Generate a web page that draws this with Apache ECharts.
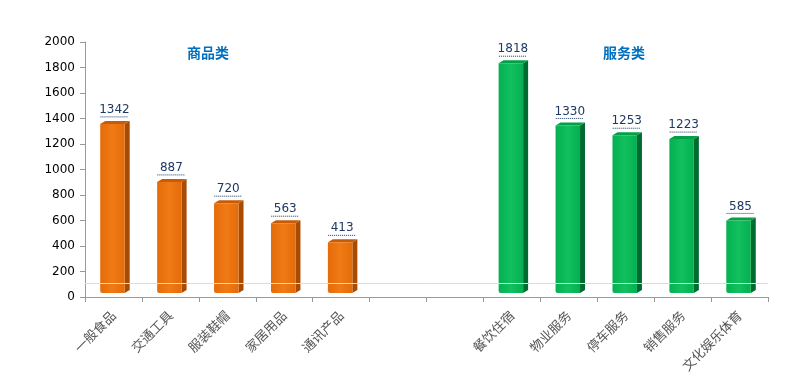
<!DOCTYPE html>
<html><head><meta charset="utf-8">
<script src="https://cdn.jsdelivr.net/npm/echarts@6/dist/echarts.min.js"></script>
<style>html,body{margin:0;padding:0;background:#fff}#c{width:793px;height:382px}</style>
</head><body><div id="c"></div>
<script>
const categories = ['一般食品','交通工具','服装鞋帽','家居用品','通讯产品','','','餐饮住宿','物业服务','停车服务','销售服务','文化娱乐体育'];
const goodsValues = [1342, 887, 720, 563, 413];
const serviceValues = [1818, 1330, 1253, 1223, 585];
const goodsIndex = [0, 1, 2, 3, 4];
const serviceIndex = [7, 8, 9, 10, 11];
const yTicks = [0, 200, 400, 600, 800, 1000, 1200, 1400, 1600, 1800, 2000];

function makeRender(front, frontLight, side, topC) {
  return function (params, api) {
    const idx = api.value(0), v = api.value(1);
    const t = api.coord([idx, v]);
    const b = api.coord([idx, 0]);
    const bw = api.size([1, 0])[0] * 0.43;
    const d = 5, r = 3;
    const x0 = t[0] - bw / 2 - 1, x1 = x0 + bw;
    const yT = t[1] - 2, yB = b[1] - 4;
    const children = [
      { type: 'polygon', shape: { points: [[x1, yT], [x1 + d, yT - r], [x1 + d, yB - r], [x1, yB]] }, style: { fill: side } },
      { type: 'polygon', shape: { points: [[x0, yT], [x0 + d, yT - r], [x1 + d, yT - r], [x1, yT]] }, style: { fill: topC } },
      { type: 'rect', shape: { x: x0, y: yT, width: bw, height: yB - yT, r: [0, 0, 0, 2] },
        style: { fill: new echarts.graphic.LinearGradient(0, 0, 1, 0, [
          { offset: 0, color: front }, { offset: 0.5, color: frontLight }, { offset: 1, color: front }]) } },
      { type: 'text', style: { text: String(v), x: t[0] + 1, y: yT - 8, align: 'center', verticalAlign: 'bottom',
          fill: '#1F3864', font: '12px "DejaVu Sans", sans-serif' } },
      { type: 'line', shape: { x1: t[0] + 1 - 14, y1: yT - 7, x2: t[0] + 1 + 14, y2: yT - 7 },
        style: { stroke: '#1F3864', lineWidth: 1, lineDash: [1, 1] } }
    ];
    return { type: 'group', children };
  };
}

const chart = echarts.init(document.getElementById('c'));
chart.setOption({
  animation: false,
  title: [
    { text: '商品类', left: 182, top: 41, textStyle: { fontSize: 14, fontWeight: 'bold', color: '#0070C0', fontFamily: '"Noto Sans CJK SC"' } },
    { text: '服务类', left: 598, top: 41, textStyle: { fontSize: 14, fontWeight: 'bold', color: '#0070C0', fontFamily: '"Noto Sans CJK SC"' } }
  ],
  grid: { left: 85, right: 25, top: 42, bottom: 85, containLabel: false },
  xAxis: {
    type: 'category', data: categories, boundaryGap: true,
    axisLine: { lineStyle: { color: '#999' } },
    axisTick: { show: true, length: 5, lineStyle: { color: '#999' }, interval: 0 },
    axisLabel: { interval: 0, rotate: 45, color: '#555', fontSize: 13, fontFamily: '"Noto Sans CJK SC"', margin: 16 }
  },
  yAxis: {
    type: 'value', min: yTicks[0], max: yTicks[yTicks.length - 1], interval: 200,
    axisLine: { show: true, lineStyle: { color: '#999' } },
    axisTick: { show: true, length: 5, lineStyle: { color: '#999' } },
    splitLine: { show: false },
    axisLabel: { color: '#000', fontSize: 12, fontFamily: '"DejaVu Sans", sans-serif', margin: 10, formatter: v => String(v) }
  },
  series: [
    { type: 'custom', renderItem: makeRender('#E46C0A', '#F07A16', '#A84C04', '#C85C06'),
      data: goodsIndex.map((i, k) => [i, goodsValues[k]]),
      markLine: { silent: true, symbol: 'none', label: { show: false },
        lineStyle: { color: '#dcdcdc', type: 'solid', width: 1 }, data: [{ yAxis: 110 }] } },
    { type: 'custom', renderItem: makeRender('#04B050', '#12C060', '#006B30', '#03A048'),
      data: serviceIndex.map((i, k) => [i, serviceValues[k]]) }
  ]
});
</script></body></html>
